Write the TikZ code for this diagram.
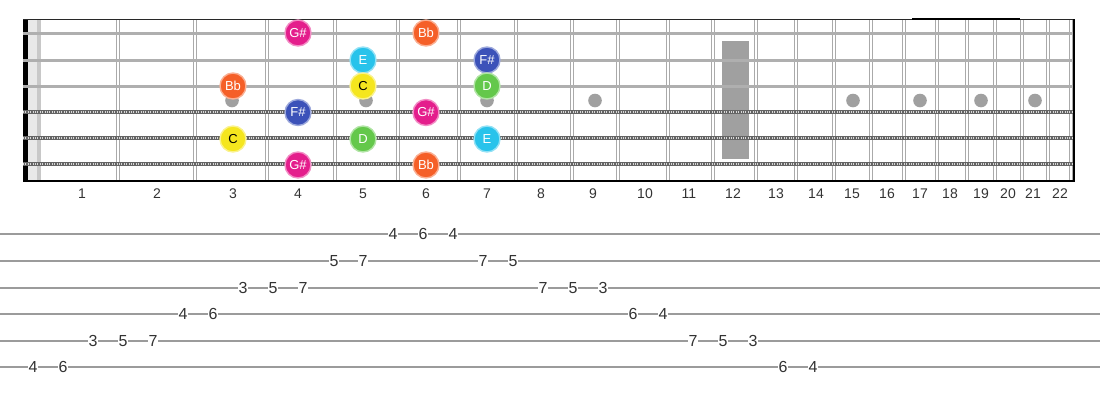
\documentclass[tikz,border=0pt]{standalone}
\usepackage{fontspec}
\setmainfont{Liberation Sans}
\usepackage{xcolor}
\usetikzlibrary{positioning}
\definecolor{fbBorder}{RGB}{40, 40, 40}
\definecolor{fbFret}{RGB}{170, 170, 170}
\definecolor{fbString}{RGB}{175, 175, 175}
\definecolor{fbWound}{RGB}{100, 100, 100}
\definecolor{fbWoundLight}{RGB}{215, 215, 215}
\definecolor{fbInlay}{RGB}{160, 160, 160}
\definecolor{fbNutLight}{RGB}{232, 232, 232}
\definecolor{fbNutDark}{RGB}{200, 200, 200}
\definecolor{fbText}{RGB}{51, 51, 51}
\definecolor{tabGray}{RGB}{155, 155, 155}
\definecolor{noteGs}{RGB}{228, 30, 140}
\definecolor{noteBb}{RGB}{245, 95, 40}
\definecolor{noteE}{RGB}{40, 195, 235}
\definecolor{noteFs}{RGB}{60, 82, 185}
\definecolor{noteC}{RGB}{245, 230, 30}
\definecolor{noteD}{RGB}{100, 200, 75}
\tikzset{
    fretwire/.style={
        draw=fbFret,
        line width=1.3pt
    },
    plainstring/.style={
        draw=fbString,
        line width=3pt
    },
    woundstring/.style={
        draw=fbWound,
        line width=4.6pt,
        postaction={draw=fbWoundLight, line width=2pt, dash pattern=on 1pt off 1.4pt}
    },
    note/.style={
        circle,
        minimum size=26pt,
        inner sep=0pt,
        line width=1.4pt,
        font=\fontsize{13}{13}\selectfont,
        text=white
    },
    gsnote/.style={note, fill=noteGs, draw=noteGs!50!white},
    bbnote/.style={note, fill=noteBb, draw=noteBb!50!white},
    enote/.style={note, fill=noteE, draw=noteE!50!white},
    fsnote/.style={note, fill=noteFs, draw=noteFs!50!white},
    cnote/.style={note, fill=noteC, draw=noteC!50!white, text=black},
    dnote/.style={note, fill=noteD, draw=noteD!50!white},
    fretnum/.style={
        font=\fontsize{14}{14}\selectfont,
        text=fbText,
        inner sep=1pt
    },
    tabline/.style={
        draw=tabGray,
        line width=2pt
    },
    tabnum/.style={
        font=\fontsize{16}{16}\selectfont,
        text=fbText,
        fill=white,
        inner sep=0.6pt
    }
}

\begin{document}
\begin{tikzpicture}[x=1pt, y=-1pt]
    \useasboundingbox (0,0) rectangle (1100,400);

    % Nut
    \fill[black] (23,19.5) rectangle (28,181);
    \fill[fbNutLight] (28,19.5) rectangle (36.5,181);
    \fill[fbNutDark] (36.5,19.5) rectangle (41,181);

    % Frets (double wires)
    \foreach \fx in {118,195,267,335,398,459,516,572,618,668,713,756,796,834,871,904,937,967,995,1022,1048,1071} {
        \draw[fretwire] (\fx-1.7,19.5) -- (\fx-1.7,181);
        \draw[fretwire] (\fx+1.7,19.5) -- (\fx+1.7,181);
    }

    % Inlays
    \foreach \ix in {232,366,487,595,853,920,981,1035}
        \fill[fbInlay] (\ix,100.5) circle (6.8pt);
    \fill[fbInlay] (721.5,40.5) rectangle (748.5,158.5);

    % Strings
    \foreach \sy in {33,60,86}
        \draw[plainstring] (23,\sy) -- (1074,\sy);
    \foreach \sy in {112,138,164}
        \draw[woundstring] (23,\sy) -- (1074,\sy);

    % Border
    \draw[fbBorder, line width=1.4pt] (23,19.5) -- (1074,19.5);
    \draw[black, line width=2.2pt] (912,19.3) -- (1020,19.3);
    \draw[black, line width=1.6pt] (23,181) -- (1074,181);
    \draw[black, line width=2.4pt] (1074,19) -- (1074,181.8);

    % Scale notes
    \node[gsnote] (gsA) at (298,33) {G\#};
    \node[bbnote] (bbA) at (426,33) {Bb};
    \node[enote]  (eA)  at (363,60) {E};
    \node[fsnote] (fsA) at (487,60) {F\#};
    \node[bbnote] (bbB) at (233,86) {Bb};
    \node[cnote]  (cA)  at (363,86) {C};
    \node[dnote]  (dA)  at (487,86) {D};
    \node[fsnote] (fsB) at (298,112.5) {F\#};
    \node[gsnote] (gsB) at (426,112.5) {G\#};
    \node[cnote]  (cB)  at (233,139) {C};
    \node[dnote]  (dB)  at (363,139) {D};
    \node[enote]  (eB)  at (487,139) {E};
    \node[gsnote] (gsC) at (298,165) {G\#};
    \node[bbnote] (bbC) at (426,165) {Bb};

    % Fret numbers
    \foreach \n/\lx in {1/82,2/157,3/233,4/298,5/363,6/426,7/487,8/541,9/593,10/645,11/689,12/733,13/776,14/816,15/852,16/887,17/920,18/950,19/981,20/1008,21/1033,22/1060}
        \node[fretnum] (fret\n) at (\lx,193.3) {\n};

    % Tab staff
    \foreach \ty in {234,261,288,314,341,367}
        \draw[tabline] (0,\ty) -- (1100,\ty);

    % Tab numbers
    \foreach \tx/\ty/\d [count=\i] in {
        33/367/4, 63/367/6,
        93/341/3, 123/341/5, 153/341/7,
        183/314/4, 213/314/6,
        243/288/3, 273/288/5, 303/288/7,
        334/261/5, 363/261/7,
        393/234/4, 423/234/6, 453/234/4,
        483/261/7, 513/261/5,
        543/288/7, 573/288/5, 603/288/3,
        633/314/6, 663/314/4,
        693/341/7, 723/341/5, 753/341/3,
        783/367/6, 813/367/4}
        \node[tabnum] (tab\i) at (\tx,\ty) {\d};

\end{tikzpicture}
\end{document}
